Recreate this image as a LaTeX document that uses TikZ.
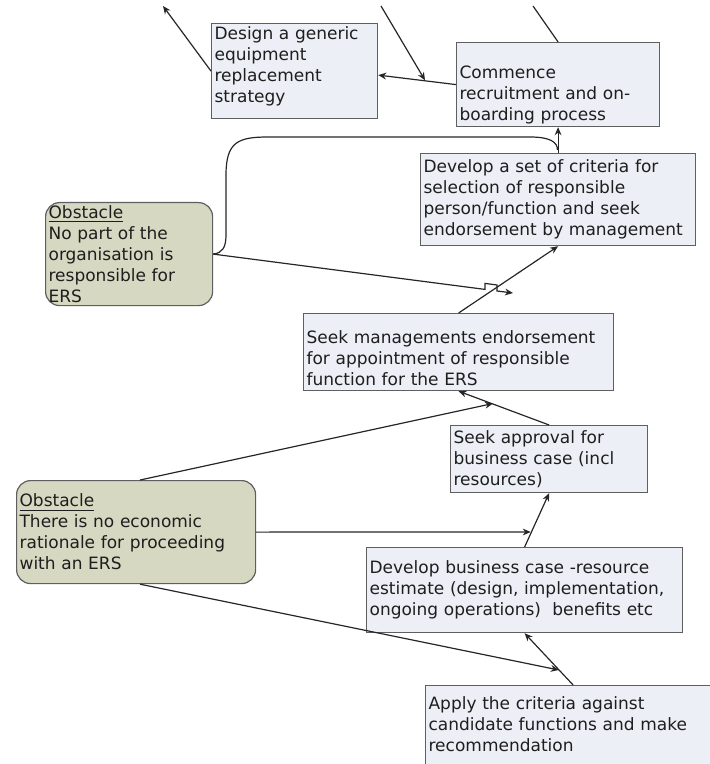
\documentclass[tikz,border=0pt]{standalone}
\usepackage{fontspec}
\setmainfont{DejaVu Sans}
\usetikzlibrary{arrows.meta}

\definecolor{taskfill}{RGB}{236,239,246}
\definecolor{obstaclefill}{RGB}{214,216,193}
\definecolor{edgegray}{RGB}{95,95,95}
\definecolor{textgray}{RGB}{30,30,30}

\tikzset{
  task/.style={draw=edgegray, fill=taskfill, line width=0.6pt, anchor=north west,
    align=left, inner xsep=1.5pt, inner ysep=1pt, text=textgray,
    font=\fontsize{8.5}{10.5}\selectfont},
  obstacle/.style={task, fill=obstaclefill, rounded corners=7pt, inner ysep=0pt},
  link/.style={line width=0.6pt, draw=black!85, -{Stealth[length=4pt,width=3.4pt]}},
  plain/.style={line width=0.6pt, draw=black!85}
}

\begin{document}
\begin{tikzpicture}[x=0.5pt, y=-0.5pt]
    \useasboundingbox (0,0) rectangle (710,764);
    \clip (0,0) rectangle (710,764);

    % 1. CAIXES D'ACCIO
    \node[task, text width=80pt, minimum height=47.5pt] (design) at (211,23)
        {Design a generic\\equipment\\replacement\\strategy\rule[-6.5pt]{0pt}{6.5pt}};
    \node[task, text width=98.5pt, minimum height=42pt, inner ysep=0pt] (commence) at (456,42)
        {\rule{0pt}{17pt}Commence\\recruitment and on-\\boarding process};
    \node[task, text width=134.5pt, minimum height=46pt] (criteria) at (420,153)
        {Develop a set of criteria for\\selection of responsible\\person/function and seek\\endorsement by management};
    \node[task, text width=152pt, minimum height=38.5pt] (seekm) at (303,313)
        {\rule{0pt}{12.5pt}Seek managements endorsement\\for appointment of responsible\\function for the ERS};
    \node[task, text width=95.5pt, minimum height=33.5pt] (seeka) at (450,425)
        {Seek approval for\\business case (incl\\resources)};
    \node[task, text width=155pt, minimum height=42.5pt] (devbc) at (366,547)
        {Develop business case -resource\\estimate (design, implementation,\\ongoing operations)\ \ benefits etc};
    \node[task, text width=144.5pt, minimum height=50pt] (apply) at (425,685)
        {Apply the criteria against\\candidate functions and make\\recommendation\rule[-12pt]{0pt}{12pt}};

    % 2. OBSTACLES
    \node[obstacle, text width=80.5pt, minimum height=51.5pt] (obs1) at (45,202)
        {\underline{Obstacle}\\No part of the\\organisation is\\responsible for\\ERS};
    \node[obstacle, text width=116.5pt, minimum height=51.5pt] (obs2) at (16,480)
        {\underline{Obstacle}\\There is no economic\\rationale for proceeding\\with an ERS};

    % 3. PUNTS LLIURES I D'UNIO
    \coordinate (top1) at (381,6);
    \coordinate (top2) at (163,6);
    \coordinate (top3) at (533,6);
    \coordinate (j1) at (425,80.3);
    \coordinate (j2) at (557.5,150);
    \coordinate (j3) at (513,293);
    \coordinate (j4) at (493,403.5);
    \coordinate (j5) at (530.7,532);
    \coordinate (j6) at (558.8,670);

    % 4. FLETXES
    \draw[link] (commence.west) -- ([yshift=-2pt]design.east);
    \draw[link] (top1) -- (j1);
    \draw[link] (design.west) -- (top2);
    \draw[plain] (top3) -- (commence.north);
    \draw[link] (criteria.north) -- (commence.south);
    \draw[plain] (obs1.east) .. controls (222,253) and (226,248) .. (226,235) -- (226,175)
        .. controls (226,142) and (238,137) .. (268,137) -- (530,137)
        .. controls (550,137) and (557.5,142) .. (j2);
    \draw[link] (obs1.east) -- (485,289.4) -- (485,283.4) -- (497,285) -- (497,291) -- (j3);
    \draw[link] (seekm.north) -- (criteria.south);
    \draw[link] (seeka.north) -- (seekm.south);
    \draw[link] ([xshift=2pt]obs2.north) -- (j4);
    \draw[link] (devbc.north) -- (seeka.south);
    \draw[link] (obs2.east) -- (j5);
    \draw[link] (apply.north) -- (devbc.south);
    \draw[link] ([xshift=2pt]obs2.south) -- (j6);

\end{tikzpicture}
\end{document}
